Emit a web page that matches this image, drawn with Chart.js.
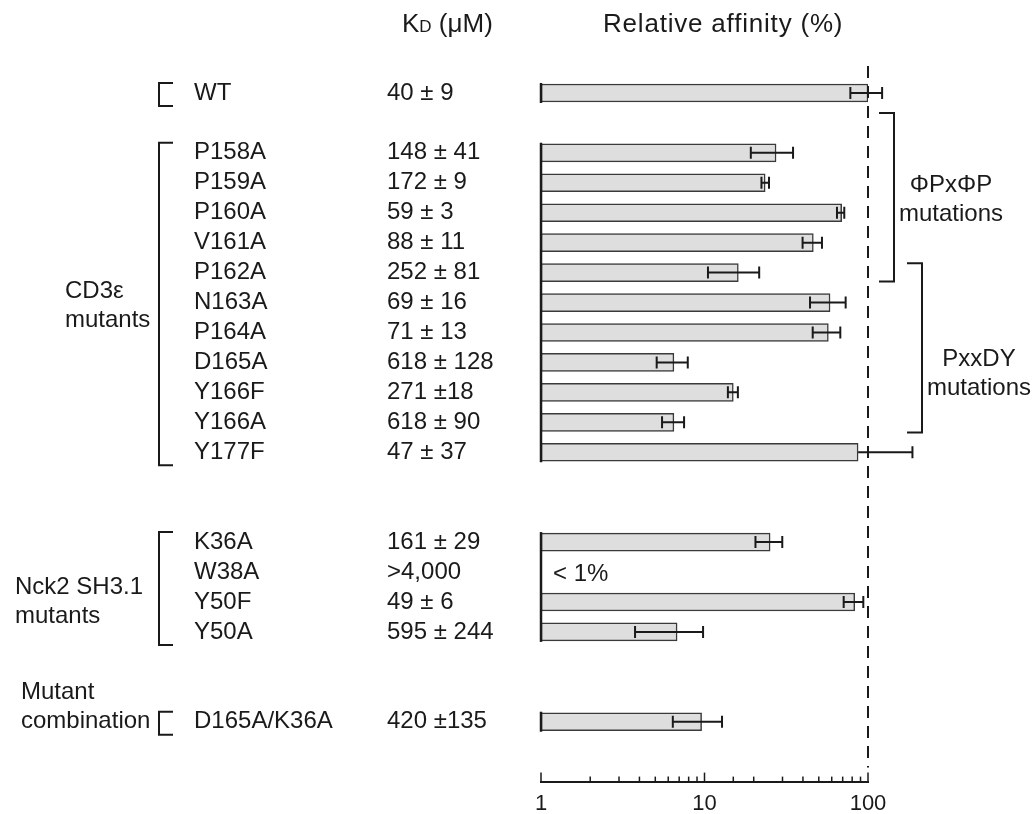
<!DOCTYPE html>
<html>
<head>
<meta charset="utf-8">
<script src="https://cdn.jsdelivr.net/npm/chart.js@4.4.0/dist/chart.umd.min.js"></script>
<style>
  body { margin: 0; background: #fff; }
  #wrap { width: 1036px; height: 814px; }
</style>
</head>
<body>
<div id="wrap"><canvas id="affinityChart" width="1036" height="814"></canvas></div>
<script>
// rows, top to bottom ('' = empty spacer row)
const mutants = ['WT', '', 'P158A', 'P159A', 'P160A', 'V161A', 'P162A', 'N163A', 'P164A', 'D165A',
  'Y166F', 'Y166A', 'Y177F', '', '', 'K36A', 'W38A', 'Y50F', 'Y50A', '', '', 'D165A/K36A']
const kdLabels = ['40 ± 9', '', '148 ± 41', '172 ± 9', '59 ± 3', '88 ± 11', '252 ± 81', '69 ± 16', '71 ± 13', '618 ± 128',
  '271 ±18', '618 ± 90', '47 ± 37', '', '', '161 ± 29', '>4,000', '49 ± 6', '595 ± 244', '', '', '420 ±135']
// relative affinity (%) and error bar ends
const affinity = [100, null, 27.4, 23.5, 69, 46.3, 16.1, 58.6, 57.2, 6.5,
  15.0, 6.5, 87, null, null, 25.2, null, 83, 6.8, null, null, 9.6]
const errLow = [78, null, 19.2, 22.3, 64.6, 39.8, 10.5, 44.2, 45.9, 5.1,
  13.9, 5.5, null, null, null, 20.5, null, 71, 3.76, null, null, 6.4]
const errHigh = [122, null, 34.8, 24.8, 71.6, 52.3, 21.6, 73, 67.7, 7.9,
  16.0, 7.5, 187, null, null, 29.9, null, 93.6, 9.8, null, null, 12.8]
const belowOne = { row: 16, text: '< 1%' }

const groups = [
  { lines: [], from: 0, to: 0, labelRow: 0 },
  { lines: ['CD3ε', 'mutants'], from: 2, to: 12, labelRow: 6.62 },
  { lines: ['Nck2 SH3.1', 'mutants'], from: 15, to: 18, labelRow: 16.5 },
  { lines: ['Mutant', 'combination'], from: 21, to: 21, labelRow: 20.03 }
]
const motifs = [
  { lines: ['ΦPxΦP', 'mutations'], from: 0.67, to: 6.3, labelRow: 3.07 },
  { lines: ['PxxDY', 'mutations'], from: 5.69, to: 11.34, labelRow: 8.9 }
]
const majorTicks = [1, 10, 100]

const FONT = '"Liberation Sans", Arial, sans-serif'
const INK = '#1a1a1a'

const bars = []
mutants.forEach((m, i) => {
  if (affinity[i] != null) bars.push({ x: affinity[i], y: i })
})

const figurePlugin = {
  id: 'figure',
  afterDatasetsDraw(chart) {
    const ctx = chart.ctx
    const xs = chart.scales.x
    const ys = chart.scales.y
    const area = chart.chartArea
    const x1 = xs.getPixelForValue(1)
    ctx.save()
    ctx.strokeStyle = INK
    ctx.lineCap = 'butt'

    // error bars
    ctx.lineWidth = 2
    mutants.forEach((m, i) => {
      if (affinity[i] == null) return
      const y = ys.getPixelForValue(i)
      const lo = xs.getPixelForValue(errLow[i] != null ? errLow[i] : affinity[i])
      const hi = xs.getPixelForValue(errHigh[i])
      ctx.beginPath()
      ctx.moveTo(lo, y); ctx.lineTo(hi, y)
      if (errLow[i] != null) { ctx.moveTo(lo, y - 6); ctx.lineTo(lo, y + 6) }
      ctx.moveTo(hi, y - 6); ctx.lineTo(hi, y + 6)
      ctx.stroke()
    })

    // left axis segments per group
    ctx.lineWidth = 2.5
    groups.forEach(g => {
      ctx.beginPath()
      ctx.moveTo(x1, ys.getPixelForValue(g.from) - 10)
      ctx.lineTo(x1, ys.getPixelForValue(g.to) + 10)
      ctx.stroke()
    })

    // ticks pointing up from the x axis
    ctx.lineWidth = 1.5
    xs.ticks.forEach(t => {
      const px = xs.getPixelForValue(t.value)
      const len = majorTicks.includes(t.value) ? 9 : 5
      ctx.beginPath()
      ctx.moveTo(px, area.bottom)
      ctx.lineTo(px, area.bottom - len)
      ctx.stroke()
    })

    // dashed 100% line
    const x100 = xs.getPixelForValue(100)
    ctx.lineWidth = 2
    ctx.setLineDash([12, 8])
    ctx.beginPath()
    ctx.moveTo(x100, area.top - 12)
    ctx.lineTo(x100, area.bottom - 14)
    ctx.stroke()
    ctx.setLineDash([])
    ctx.restore()
  },
  afterDraw(chart) {
    const ctx = chart.ctx
    const xs = chart.scales.x
    const ys = chart.scales.y
    ctx.save()
    ctx.fillStyle = INK
    ctx.strokeStyle = INK
    ctx.textBaseline = 'middle'
    ctx.font = '24px ' + FONT

    // row names and KD values
    mutants.forEach((m, i) => {
      const y = ys.getPixelForValue(i)
      ctx.textAlign = 'left'
      ctx.fillText(m, 194, y)
      ctx.fillText(kdLabels[i], 387, y)
    })
    ctx.fillText(belowOne.text, xs.getPixelForValue(1) + 12, ys.getPixelForValue(belowOne.row) + 2)

    // left brackets and group names
    ctx.lineWidth = 2
    groups.forEach((g, gi) => {
      const top = ys.getPixelForValue(g.from) - 10
      const bot = ys.getPixelForValue(g.to) + 13
      ctx.beginPath()
      ctx.moveTo(173, top); ctx.lineTo(159, top); ctx.lineTo(159, bot); ctx.lineTo(173, bot)
      ctx.stroke()
      const lx = gi === 1 ? 65 : (gi === 2 ? 15 : 21)
      g.lines.forEach((line, li) => {
        ctx.fillText(line, lx, ys.getPixelForValue(g.labelRow + li * 0.97))
      })
    })

    // right motif brackets
    const xr = xs.getPixelForValue(100)
    motifs.forEach((mo, mi) => {
      const bx = xr + (mi === 0 ? 26 : 54)
      const top = ys.getPixelForValue(mo.from)
      const bot = ys.getPixelForValue(mo.to)
      ctx.beginPath()
      ctx.moveTo(bx - 15, top); ctx.lineTo(bx, top); ctx.lineTo(bx, bot); ctx.lineTo(bx - 15, bot)
      ctx.stroke()
      ctx.textAlign = 'center'
      mo.lines.forEach((line, li) => {
        ctx.fillText(line, bx + 57, ys.getPixelForValue(mo.labelRow + li * 0.97))
      })
    })

    // column headings
    ctx.textAlign = 'left'
    ctx.textBaseline = 'alphabetic'
    const hy = 32
    ctx.font = '26px ' + FONT
    let hx = 402
    ctx.fillText('K', hx, hy)
    hx += ctx.measureText('K').width
    ctx.font = '17px ' + FONT
    ctx.fillText('D', hx, hy)
    hx += ctx.measureText('D').width
    ctx.font = '26px ' + FONT
    ctx.fillText(' (μM)', hx, hy)
    ctx.letterSpacing = '0.8px'
    ctx.fillText('Relative affinity (%)', 603, hy)
    ctx.restore()
  }
}

new Chart(document.getElementById('affinityChart'), {
  type: 'bar',
  data: {
    datasets: [{
      data: bars,
      backgroundColor: '#dedede',
      borderColor: '#3a3a3a',
      borderWidth: 1.5,
      borderSkipped: false,
      barThickness: 18
    }]
  },
  options: {
    indexAxis: 'y',
    responsive: false,
    animation: false,
    layout: { padding: { left: 541, right: 168, top: 78, bottom: -12 } },
    plugins: { legend: { display: false }, tooltip: { enabled: false } },
    scales: {
      x: {
        type: 'logarithmic',
        min: 1,
        max: 100,
        position: 'bottom',
        grid: { display: false, drawTicks: false, tickLength: 0 },
        border: { display: true, color: INK, width: 2 },
        ticks: {
          autoSkip: false,
          maxRotation: 0,
          padding: 9,
          color: INK,
          font: { family: FONT, size: 22 },
          callback: (value) => majorTicks.includes(value) ? String(value) : ''
        }
      },
      y: {
        type: 'linear',
        reverse: true,
        offset: false,
        min: -0.5,
        max: 23,
        display: false
      }
    }
  },
  plugins: [figurePlugin]
})
</script>
</body>
</html>
